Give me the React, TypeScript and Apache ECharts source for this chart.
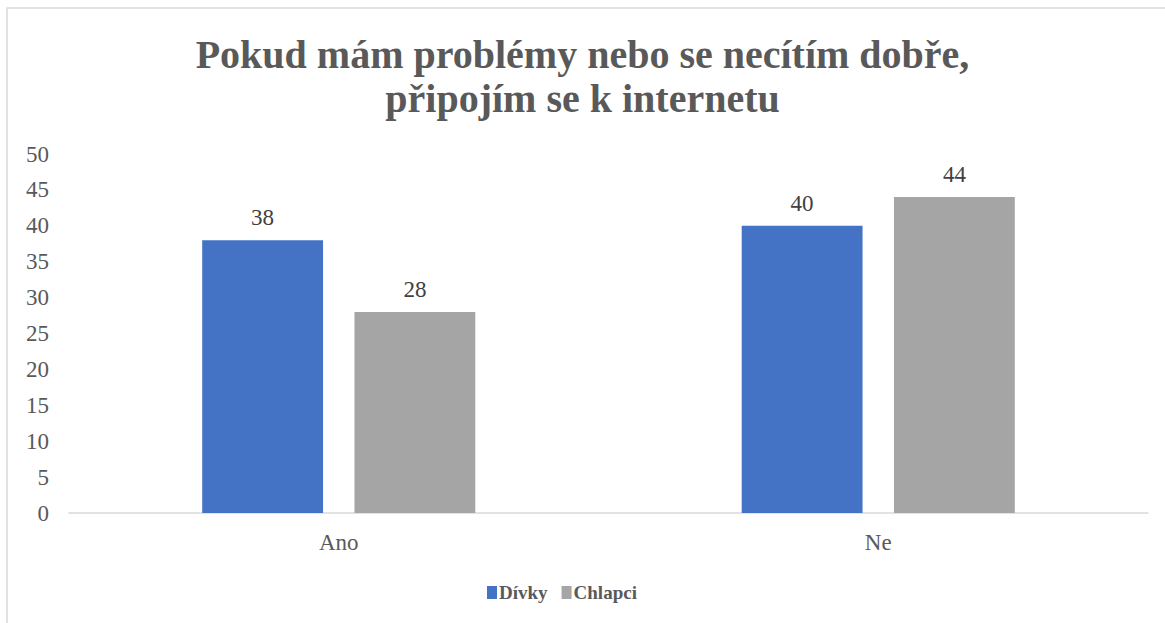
import React, { useEffect, useRef } from "react";
import * as echarts from "echarts";

const categories = ["Ano", "Ne"];
const divky = [38, 40];
const chlapci = [28, 44];
const seriesNames = ["Dívky", "Chlapci"];
const titleText = "Pokud mám problémy nebo se necítím dobře,\npřipojím se k internetu";

const FONT = "'Liberation Serif', 'Times New Roman', serif";

export default function App() {
  const ref = useRef<HTMLDivElement>(null);
  useEffect(() => {
    document.body.style.margin = "0";
    const chart = echarts.init(ref.current!, null, { renderer: "svg" });
    const labelStyle = {
      show: true,
      position: "top" as const,
      distance: 11,
      fontFamily: FONT,
      fontSize: 23,
      color: "#404040",
    };
    chart.setOption({
      animation: false,
      backgroundColor: "#ffffff",
      title: {
        text: titleText,
        left: "center",
        top: 27,
        textStyle: {
          fontFamily: FONT,
          fontSize: 40,
          fontWeight: "bold",
          color: "#595959",
          lineHeight: 44,
        },
      },
      graphic: [
        {
          type: "rect",
          shape: { x: 7, y: 8, width: 1200, height: 700 },
          style: { fill: "none", stroke: "#d9d9d9", lineWidth: 1.5 },
          silent: true,
        },
      ],
      legend: {
        bottom: 16,
        left: 482,
        itemWidth: 10,
        itemHeight: 13,
        itemGap: 14,
        icon: "rect",
        textStyle: {
          fontFamily: FONT,
          fontSize: 19,
          fontWeight: "bold",
          color: "#595959",
          padding: [0, 0, 0, -3],
        },
        data: seriesNames,
      },
      grid: { left: 69, right: 17, top: 154, bottom: 110, containLabel: false },
      xAxis: {
        type: "category",
        data: categories,
        axisLine: { show: true, lineStyle: { color: "#d9d9d9", width: 1.5 } },
        axisTick: { show: false },
        axisLabel: {
          fontFamily: FONT,
          fontSize: 23,
          color: "#595959",
          margin: 18,
        },
      },
      yAxis: {
        type: "value",
        min: 0,
        max: 50,
        interval: 5,
        axisLine: { show: false },
        axisTick: { show: false },
        splitLine: { show: false },
        axisLabel: {
          fontFamily: FONT,
          fontSize: 23,
          color: "#595959",
          margin: 20,
        },
      },
      series: [
        {
          name: seriesNames[0],
          type: "bar",
          data: divky,
          barWidth: "22.4%",
          barGap: "26%",
          itemStyle: { color: "#4472C4" },
          label: labelStyle,
        },
        {
          name: seriesNames[1],
          type: "bar",
          data: chlapci,
          barWidth: "22.4%",
          itemStyle: { color: "#A5A5A5" },
          label: labelStyle,
        },
      ],
    });
    return () => chart.dispose();
  }, []);
  return <div ref={ref} style={{ width: 1165, height: 623 }} />;
}
